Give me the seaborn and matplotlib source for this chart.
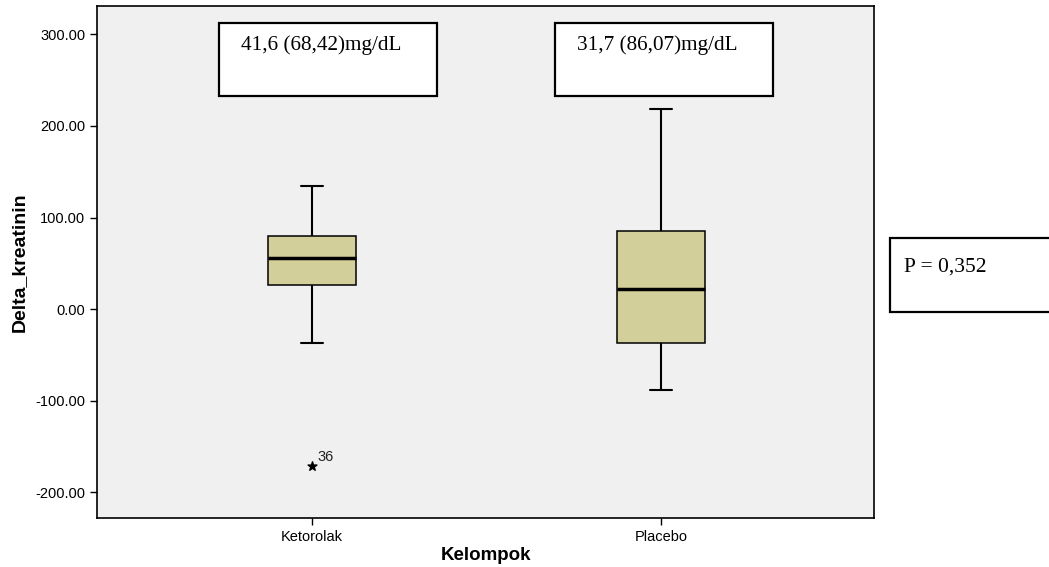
import matplotlib
matplotlib.use("Agg")
import matplotlib.pyplot as plt
import seaborn as sns
import pandas as pd
from matplotlib.patches import Rectangle

# ringkasan lima angka per kelompok (min, Q1, median, Q3, max)
kelompok = ["Ketorolak", "Placebo"]
ketorolak_ringkas = [-36.4, 25.9, 56.4, 80.4, 134.6]
placebo_ringkas = [-88.4, -36.4, 22.2, 85.2, 218.0]

# pencilan ekstrem
pencilan_kelompok = ["Ketorolak"]
pencilan_nilai = [-171.4]
pencilan_label = ["36"]

# teks anotasi
teks_rerata = ["41,6 (68,42)mg/dL", "31,7 (86,07)mg/dL"]
teks_p = "P = 0,352"
yticks = [-200, -100, 0, 100, 200, 300]

data = pd.DataFrame({
    "Kelompok": ["Ketorolak"] * len(ketorolak_ringkas) + ["Placebo"] * len(placebo_ringkas),
    "Delta_kreatinin": ketorolak_ringkas + placebo_ringkas,
})

sns.set_style("ticks")
plt.rcParams["font.family"] = ["Liberation Sans", "DejaVu Sans"]
plt.rcParams["text.color"] = "black"
plt.rcParams["axes.labelcolor"] = "black"
plt.rcParams["xtick.color"] = "black"
plt.rcParams["ytick.color"] = "black"

fig = plt.figure(figsize=(10.49, 5.67), dpi=100)
ax = fig.add_axes([97 / 1049, 1 - 518 / 567, 777 / 1049, 512 / 567])
ax.set_facecolor("#f0f0f0")

sns.boxplot(data=data, x="Kelompok", y="Delta_kreatinin", order=kelompok,
            width=0.25, color="#d3cf9a", whis=(0, 100), showfliers=False,
            saturation=1, capwidths=0.063, ax=ax,
            boxprops=dict(edgecolor="black", linewidth=1.1),
            whiskerprops=dict(color="black", linewidth=1.5),
            capprops=dict(color="black", linewidth=1.5),
            medianprops=dict(color="black", linewidth=2.5))

# pencilan dengan tanda bintang
pos = [kelompok.index(k) for k in pencilan_kelompok]
ax.scatter(pos, pencilan_nilai, marker="*", s=45, color="black", zorder=5)
for p, v, lab in zip(pos, pencilan_nilai, pencilan_label):
    ax.annotate(lab, (p, v), xytext=(4, 4), textcoords="offset points",
                fontsize=10.5, color="#222222")

ax.set_xlim(-0.616, 1.61)
ax.set_ylim(-228, 331)
ax.set_yticks(yticks)
ax.set_yticklabels([f"{v:.2f}" for v in yticks], fontsize=10.5)
ax.tick_params(axis="x", labelsize=10.5, length=5, width=1)
ax.tick_params(axis="y", length=5, width=1)
for s in ax.spines.values():
    s.set_visible(True)
    s.set_linewidth(1.2)
    s.set_color("black")

ax.set_xlabel("Kelompok", fontsize=13.5, fontweight="bold", labelpad=2)
ax.set_ylabel("Delta_kreatinin", fontsize=14, fontweight="bold", labelpad=5)

# kotak teks rerata (SD)
W, H = 1049, 567
kotak = [(219, 23, 218, 73), (555, 23, 218, 73)]
for (x0, y0, w, h), t in zip(kotak, teks_rerata):
    fig.add_artist(Rectangle((x0 / W, 1 - (y0 + h) / H), w / W, h / H,
                             transform=fig.transFigure, facecolor="white",
                             edgecolor="black", linewidth=1.6, zorder=10))
    fig.text((x0 + 22) / W, 1 - 45 / H, t, fontsize=15.3, va="center",
             family=["Liberation Serif"], zorder=11)

# kotak nilai p
fig.add_artist(Rectangle((890 / W, 1 - 312 / H), 200 / W, 74 / H,
                         transform=fig.transFigure, facecolor="white",
                         edgecolor="black", linewidth=1.6, zorder=10))
fig.text(904 / W, 1 - 267 / H, teks_p, fontsize=15.5, va="center",
         family=["Liberation Serif"], zorder=11)

fig.savefig("out.png", dpi=100, facecolor="white")
